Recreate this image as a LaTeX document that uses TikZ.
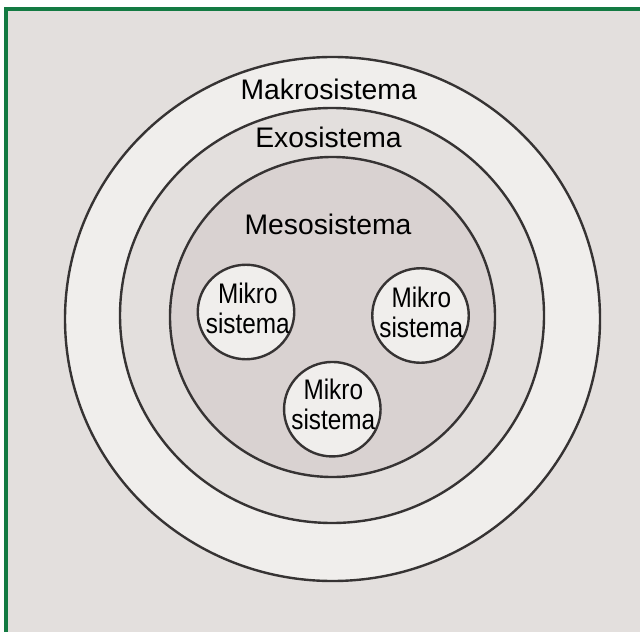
\documentclass[tikz,border=0pt]{standalone}
\usepackage{fontspec}
\setmainfont{Liberation Sans}
\newfontfamily\mikrofont[FakeStretch=0.86]{Liberation Sans}
\usepackage{xcolor}
\usepackage{tikz}
\usetikzlibrary{shapes.geometric}
\definecolor{bgray}{HTML}{E3DFDD}
\definecolor{lgray}{HTML}{F0EEEC}
\definecolor{mgray}{HTML}{D9D2D1}
\definecolor{frame}{HTML}{137A42}
\definecolor{rim}{HTML}{363333}
\tikzstyle{ring} = [ellipse,draw=rim,line width=1.2pt,inner sep=0pt]
\tikzstyle{mikro} = [ring,fill=lgray,minimum width=48.25pt,minimum height=47.25pt]
\tikzstyle{lbl} = [anchor=base,inner sep=0pt,font=\fontsize{14.15}{15}\selectfont]
\tikzstyle{mikrolbl} = [align=center,inner sep=0pt,font=\mikrofont\fontsize{14.15}{15}\selectfont]

\begin{document}
\begin{tikzpicture}[x=0.5pt,y=0.5pt]
		% Page and green frame (only top and left are visible):
		\useasboundingbox (0,0) rectangle (640,632);
		\fill[white] (0,0) rectangle (640,632);
		\fill[bgray] (6,0) rectangle (640,623);
		\draw[frame,line width=1.6pt] (6,0) -- (6,623) -- (640,623);
		
		% The systems, from the outside in:
		\node[ring,fill=lgray,minimum width=267.5pt,minimum height=262pt] (makro) at (332.5,313) {};
		\node[ring,fill=bgray,minimum width=212pt,minimum height=207.5pt] (exo) at (332,316.5) {};
		\node[ring,fill=mgray,minimum width=162.5pt,minimum height=160pt] (meso) at (332.5,315) {};
		
		% Three micro systems inside the meso system:
		\node[mikro] (mikroA) at (246,320) {};
		\node[mikro] (mikroB) at (420.5,316.5) {};
		\node[mikro] (mikroC) at (332.3,222.8) {};
		
		% Labels:
		\node[lbl] (tmakro) at (328.7,532) {Makrosistema};
		\node[lbl] (texo) at (328.5,484) {Exosistema};
		\node[lbl] (tmeso) at (328,397) {Mesosistema};
		\node[mikrolbl] (tA) at (247.8,324) {Mikro\\sistema};
		\node[mikrolbl] (tB) at (421.3,320) {Mikro\\sistema};
		\node[mikrolbl] (tC) at (333.3,227.5) {Mikro\\sistema};
		
\end{tikzpicture}
\end{document}
